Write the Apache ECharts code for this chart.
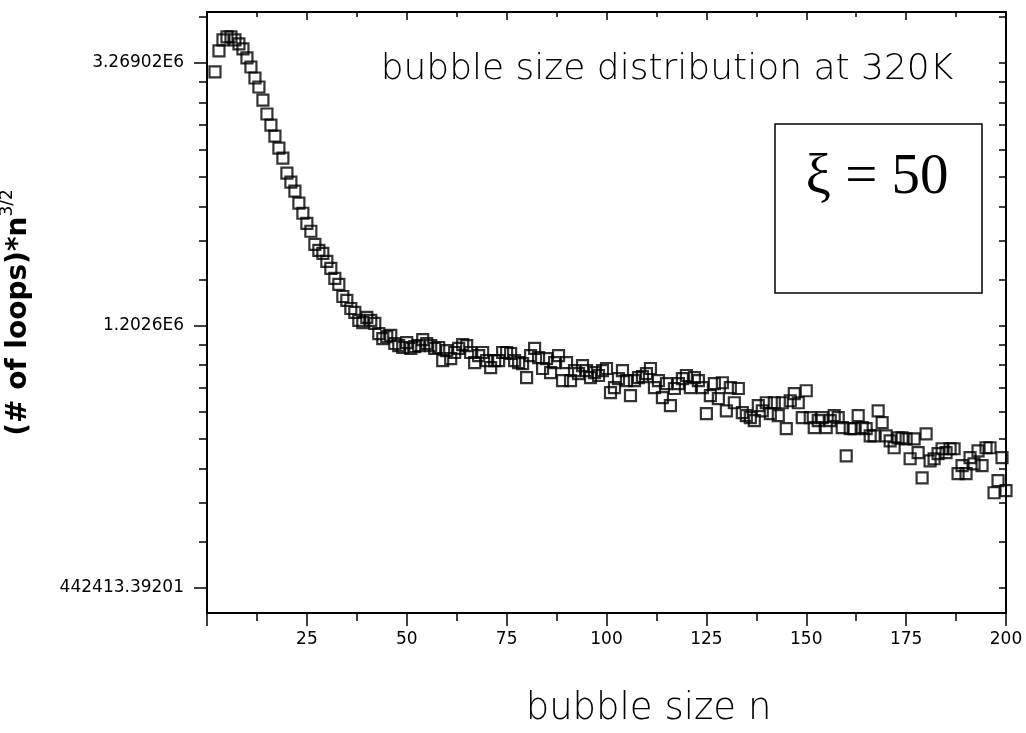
<!DOCTYPE html>
<html>
<head>
<meta charset="utf-8">
<script src="https://cdn.jsdelivr.net/npm/echarts@6/dist/echarts.min.js"></script>
<style>
  html, body { margin: 0; background: #fff; }
  #chart { width: 1026px; height: 733px; }
</style>
</head>
<body>
<div id="chart"></div>
<script>
// bubble size n
const bubbleSizes = [
  2, 3, 4, 5, 6, 7, 8, 9, 10, 11, 12, 13, 14, 15, 16, 17, 18, 19, 20, 21,
  22, 23, 24, 25, 26, 27, 28, 29, 30, 31, 32, 33, 34, 35, 36, 37, 38, 39, 40, 41,
  42, 43, 44, 45, 46, 47, 48, 49, 50, 51, 52, 53, 54, 55, 56, 57, 58, 59, 60, 61,
  62, 63, 64, 65, 66, 67, 68, 69, 70, 71, 72, 73, 74, 75, 76, 77, 78, 79, 80, 81,
  82, 83, 84, 85, 86, 87, 88, 89, 90, 91, 92, 93, 94, 95, 96, 97, 98, 99, 100, 101,
  102, 103, 104, 105, 106, 107, 108, 109, 110, 111, 112, 113, 114, 115, 116, 117, 118, 119, 120, 121,
  122, 123, 124, 125, 126, 127, 128, 129, 130, 131, 132, 133, 134, 135, 136, 137, 138, 139, 140, 141,
  142, 143, 144, 145, 146, 147, 148, 149, 150, 151, 152, 153, 154, 155, 156, 157, 158, 159, 160, 161,
  162, 163, 164, 165, 166, 167, 168, 169, 170, 171, 172, 173, 174, 175, 176, 177, 178, 179, 180, 181,
  182, 183, 184, 185, 186, 187, 188, 189, 190, 191, 192, 193, 194, 195, 196, 197, 198, 199, 200
]

// (# of loops)*n^(3/2)
const loopCounts = [
  3.159e6, 3.422e6, 3.569e6, 3.610e6, 3.610e6, 3.569e6, 3.515e6, 3.448e6, 3.332e6, 3.219e6,
  3.087e6, 2.983e6, 2.838e6, 2.691e6, 2.580e6, 2.474e6, 2.363e6, 2.275e6, 2.148e6, 2.076e6,
  2.006e6, 1.916e6, 1.844e6, 1.775e6, 1.722e6, 1.638e6, 1.601e6, 1.583e6, 1.535e6, 1.495e6,
  1.439e6, 1.406e6, 1.343e6, 1.323e6, 1.283e6, 1.264e6, 1.226e6, 1.216e6, 1.240e6, 1.226e6,
  1.212e6, 1.166e6, 1.144e6, 1.153e6, 1.158e6, 1.123e6, 1.114e6, 1.106e6, 1.127e6, 1.102e6,
  1.110e6, 1.114e6, 1.140e6, 1.123e6, 1.114e6, 1.102e6, 1.106e6, 1.052e6, 1.093e6, 1.060e6,
  1.085e6, 1.102e6, 1.118e6, 1.114e6, 1.085e6, 1.044e6, 1.072e6, 1.085e6, 1.052e6, 1.024e6,
  1.052e6, 1.052e6, 1.085e6, 1.085e6, 1.081e6, 1.052e6, 1.044e6, 1.040e6, 0.986e6, 1.072e6,
  1.102e6, 1.064e6, 1.021e6, 1.060e6, 1.005e6, 1.044e6, 1.072e6, 0.975e6, 1.044e6, 0.975e6,
  1.013e6, 1.001e6, 1.032e6, 1.013e6, 0.986e6, 1.005e6, 0.994e6, 1.013e6, 1.021e6, 0.931e6,
  0.949e6, 0.982e6, 1.013e6, 0.975e6, 0.921e6, 0.975e6, 0.986e6, 0.990e6, 1.001e6, 1.021e6,
  0.949e6, 0.975e6, 0.914e6, 0.964e6, 0.886e6, 0.946e6, 0.964e6, 0.982e6, 0.994e6, 0.949e6,
  0.986e6, 0.975e6, 0.949e6, 0.860e6, 0.921e6, 0.964e6, 0.910e6, 0.967e6, 0.869e6, 0.949e6,
  0.896e6, 0.946e6, 0.863e6, 0.853e6, 0.847e6, 0.837e6, 0.886e6, 0.869e6, 0.896e6, 0.860e6,
  0.896e6, 0.853e6, 0.896e6, 0.812e6, 0.903e6, 0.928e6, 0.896e6, 0.847e6, 0.938e6, 0.847e6,
  0.815e6, 0.837e6, 0.847e6, 0.815e6, 0.837e6, 0.853e6, 0.847e6, 0.815e6, 0.732e6, 0.812e6,
  0.812e6, 0.853e6, 0.815e6, 0.812e6, 0.790e6, 0.790e6, 0.869e6, 0.831e6, 0.790e6, 0.775e6,
  0.755e6, 0.784e6, 0.784e6, 0.781e6, 0.724e6, 0.781e6, 0.741e6, 0.673e6, 0.796e6, 0.718e6,
  0.724e6, 0.738e6, 0.752e6, 0.741e6, 0.752e6, 0.752e6, 0.684e6, 0.705e6, 0.684e6, 0.727e6,
  0.710e6, 0.746e6, 0.705e6, 0.755e6, 0.755e6, 0.636e6, 0.666e6, 0.727e6, 0.641e6
]

// y ticks sit on e^13, e^14, e^15 (natural log axis)
const yTickLabels = ['442413.39201', '1.2026E6', '3.26902E6']
const yTickPowers = [13, 14, 15]

const chartTitle = 'bubble size distribution at 320K'
const boxText = 'ξ = 50'

const majorTicks = yTickPowers.map(p => Math.exp(p))
// 8 linear minor ticks in every e-decade, like the original software draws them
const minorTicks = []
;[13, 14, 15].forEach(p => {
  const lo = Math.exp(p)
  const step = (Math.exp(p + 1) - lo) / 9
  for (let j = 1; j < 9; j++) minorTicks.push(lo + j * step)
})

const yMin = Math.exp(12.905)
const yMax = Math.exp(15.194)
const black = '#000'

const chart = echarts.init(document.getElementById('chart'))

const baseY = {
  type: 'log',
  logBase: Math.E,
  min: yMin,
  max: yMax,
  splitLine: { show: false },
  axisLine: { show: false },
  axisLabel: { show: false },
  axisTick: { show: false }
}

chart.setOption({
  animation: false,
  backgroundColor: '#fff',
  grid: {
    left: 207,
    right: 20,
    top: 12,
    bottom: 120,
    containLabel: false,
    outerBoundsMode: 'none'
  },
  graphic: [
    {
      type: 'text',
      style: {
        text: chartTitle,
        x: 667,
        y: 70,
        align: 'center',
        verticalAlign: 'middle',
        font: '200 36px "DejaVu Sans"',
        fill: black
      }
    },
    {
      type: 'rect',
      shape: { x: 775, y: 124, width: 207, height: 169 },
      style: { fill: '#fff', stroke: black, lineWidth: 1.5 }
    },
    {
      type: 'text',
      style: {
        text: boxText,
        x: 877,
        y: 178,
        align: 'center',
        verticalAlign: 'middle',
        font: '57px "Liberation Serif"',
        fill: black
      }
    }
  ],
  xAxis: [
    {
      type: 'value',
      position: 'bottom',
      min: 0,
      max: 200,
      interval: 25,
      splitLine: { show: false },
      axisLine: { lineStyle: { color: black, width: 2 } },
      axisTick: { length: 13, lineStyle: { color: black, width: 1.5 } },
      minorTick: { show: true, splitNumber: 2, length: 8, lineStyle: { color: black, width: 1.5 } },
      axisLabel: {
        showMinLabel: false,
        margin: 18,
        color: black,
        fontSize: 17,
        fontFamily: 'DejaVu Sans'
      },
      name: 'bubble size n',
      nameLocation: 'middle',
      nameGap: 78,
      nameTextStyle: {
        color: black,
        fontSize: 37,
        fontWeight: 200,
        fontFamily: 'DejaVu Sans',
        padding: [0, 0, 0, 84]
      }
    },
    {
      type: 'value',
      position: 'top',
      min: 0,
      max: 200,
      interval: 25,
      splitLine: { show: false },
      axisLine: { lineStyle: { color: black, width: 2 } },
      axisTick: { inside: true, length: 8, lineStyle: { color: black, width: 1.5 } },
      minorTick: { show: true, splitNumber: 2, length: 5, lineStyle: { color: black, width: 1.5 } },
      axisLabel: { show: false }
    }
  ],
  yAxis: [
    Object.assign({}, baseY, {
      position: 'left',
      axisLine: { show: true, lineStyle: { color: black, width: 2 } },
      axisTick: {
        show: true,
        length: 13,
        customValues: majorTicks,
        lineStyle: { color: black, width: 1.5 }
      },
      axisLabel: {
        show: true,
        customValues: majorTicks,
        margin: 23,
        color: black,
        fontSize: 17,
        fontFamily: 'DejaVu Sans',
        formatter: v => yTickLabels[Math.round(Math.log(v)) - 13]
      },
      name: '{a|(# of loops)*n}{s|3/2}',
      nameLocation: 'middle',
      nameRotate: 90,
      nameGap: 168,
      nameTextStyle: {
        rich: {
          a: { fontSize: 28, fontWeight: 'bold', fontFamily: 'DejaVu Sans', color: black, lineHeight: 40 },
          s: { fontSize: 17, fontFamily: 'DejaVu Sans', color: black, verticalAlign: 'top', lineHeight: 17 }
        }
      }
    }),
    Object.assign({}, baseY, {
      position: 'left',
      axisTick: {
        show: true,
        length: 8,
        customValues: minorTicks,
        lineStyle: { color: black, width: 1.5 }
      }
    }),
    Object.assign({}, baseY, {
      position: 'right',
      axisLine: { show: true, lineStyle: { color: black, width: 2 } },
      axisTick: {
        show: true,
        inside: true,
        length: 7,
        customValues: majorTicks.concat(minorTicks),
        lineStyle: { color: black, width: 1.5 }
      }
    })
  ],
  series: [
    {
      type: 'scatter',
      xAxisIndex: 0,
      yAxisIndex: 0,
      symbol: 'rect',
      symbolSize: 11,
      itemStyle: { color: 'rgba(0,0,0,0)', borderColor: black, borderWidth: 2.2 },
      data: bubbleSizes.map((n, i) => [n, loopCounts[i]])
    }
  ]
})
</script>
</body>
</html>
